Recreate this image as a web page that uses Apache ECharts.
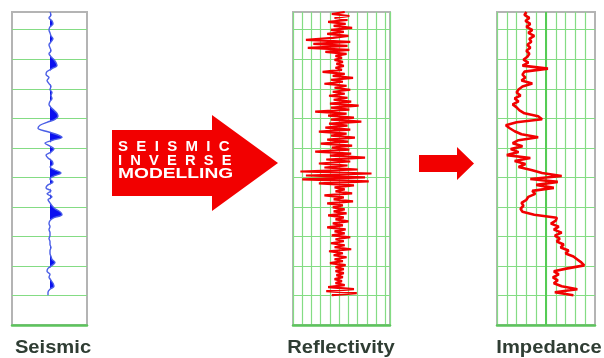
<!DOCTYPE html>
<html>
<head>
<meta charset="utf-8">
<script src="https://cdn.jsdelivr.net/npm/echarts@6/dist/echarts.min.js"></script>
<style>
  html, body { margin: 0; padding: 0; background: #ffffff; }
  #chart { width: 604px; height: 358px; }
</style>
</head>
<body>
<div id="chart"></div>
<script>
// Panel captions
const panelTitles = ['Seismic', 'Reflectivity', 'Impedance'];
// Words written on the large arrow
const arrowWords = ['SEISMIC', 'INVERSE', 'MODELLING'];

// Seismic wiggle trace, one sample per time step (top to bottom)
const seismic = [
  0, 1, -1, 2, 3, 0, -1, 0, 1, 3,
  1, -1, 0, 1, -1, 1, 4, 6, 7, 2,
  -3, -4, -1, -3, -1, 1, 0, 2, 1, 2,
  0, -1, 1, 4, 7, 8, 5, -3, -10, -12,
  -4, 6, 12, 3, -5, 0, 4, 1, -4, -2,
  2, 3, 0, 5, 11, 4, 0, 3, -2, -4,
  1, -3, 2, -2, 0, 2, 5, 10, 12, 4,
  0, -1, 0, -1, 0, 0, -1, 0, 0, 1,
  0, 0, 1, 2, 5, 2, -2, -3, 0, -1,
  1, 3, 4, 0, -2, -2
];
const seismicSteps = 105;

// Reflectivity series (finer sampling)
const reflectivity = [
  0.6, -0.8, 1.1, -0.5, 0.9, -1.2, 0.7, -0.6, 1.4, -0.9, 0.5, -1.3, 1.0, -0.7,
  -3.6, 1.2, -2.8, 0.9, -3.4, 1.1, -1.5, 0.8,
  -0.4, 0.3, -0.5, 0.4, -0.3, 0.5, -0.4, 0.3,
  -1.8, 0.6, -0.7, 1.5, -0.9, 0.4, -1.6, 0.8, -0.5, 1.2, -0.7, 0.6, -1.1, 0.9, -0.6,
  1.3, -1.0, 2.1, -0.9, 1.1, -2.6, 0.8, -1.2, 1.6, -0.9, 2.4, -1.1, 0.9, -1.5, 1.2,
  -2.2, 0.8, -0.9, 1.7, -1.3, 1.0, -2.0, 1.4, -0.8, 1.1,
  -2.6, 1.3, -1.0, 2.8, -1.4, 1.2, -2.2, 0.9, -1.6, 2.0,
  -4.2, 3.5, -3.6, 2.8, -4.0, 3.2, -2.2, 1.6,
  -0.5, 0.6, -0.4, 1.4, -1.6, 0.5, -0.6, 1.5, -1.3, 0.4, -0.7, 0.6,
  -0.6, 0.8, -1.2, 0.5, -0.4, 1.0, -0.7, 0.4, -1.3, 0.7, -0.5, 0.6, -0.8, 1.2, -0.4,
  0.5, -0.9, 0.6, -0.5, 1.3, -1.1, 0.4, -0.6, 0.8, -0.5, 0.4, -1.0, 0.7, -0.4, 0.5,
  -0.4, 0.5, -0.3, 0.4, -0.5, 0.3, -0.4, 0.6, -1.2, 1.6, -1.4, 1.9, -0.8
];
const reflectivitySteps = 157;

// Impedance log
const impedance = [
  3.0, 2.8, 3.3, 2.9, 3.4, 3.0, 3.6, 3.2, 3.8, 3.3,
  3.5, 3.1, 3.4, 3.0, 3.3, 3.1, 2.7, 3.2, 2.6, 5.2,
  2.8, 2.6, 2.9, 2.5, 3.6, 2.6, 2.2, 2.0, 2.4, 1.8,
  2.2, 1.6, 2.0, 2.3, 2.8, 4.2, 4.6, 2.0, 0.9, 1.3,
  1.8, 2.5, 4.2, 2.2, 1.6, 2.6, 1.4, 2.2, 1.0, 3.4,
  1.8, 2.9, 2.2, 3.5, 4.6, 6.6, 3.4, 6.2, 4.0, 5.8,
  3.6, 3.9, 3.2, 3.0, 2.5, 2.7, 2.4, 2.6, 3.8, 6.1,
  6.0, 5.5, 6.3, 5.8, 6.6, 5.9, 6.4, 6.1, 6.8, 6.5,
  7.3, 7.0, 7.8, 8.2, 8.6, 8.9, 7.2, 5.8, 6.3, 5.7,
  6.2, 5.8, 6.6, 8.2, 5.9, 7.8
];
const impedanceSteps = 105;

const GRID_GREEN = '#84dc84';
const BASE_GREEN = '#5cc45c';
const FRAME_GRAY = '#b4b4b4';
const RED = '#f20000';

const range = n => Array.from({ length: n + 1 }, (_, i) => i);

const grids = [
  { left: 12, top: 12, width: 75, height: 313 },
  { left: 293, top: 12, width: 97, height: 313 },
  { left: 497, top: 12, width: 98, height: 313 }
].map(g => Object.assign({ show: true, borderColor: FRAME_GRAY, borderWidth: 2, backgroundColor: '#ffffff' }, g));

function amplitudeAxis(gridIndex, min, max, interval, vertLines, showMax) {
  const ax = {
    type: 'value', gridIndex, min, max,
    axisLine: { show: true, onZero: false, lineStyle: { color: BASE_GREEN, width: 2.5 } },
    axisTick: { show: false }, axisLabel: { show: false },
    splitLine: { show: vertLines, showMaxLine: showMax, lineStyle: { color: GRID_GREEN, width: 1.2 } }
  };
  if (interval) ax.interval = interval;
  return ax;
}

function sampleAxis(gridIndex, steps) {
  return { type: 'category', gridIndex, inverse: true, boundaryGap: false, data: range(steps), show: false };
}

function depthLines(gridIndex) {
  return {
    type: 'value', gridIndex, min: 0, max: 10.6, interval: 1,
    axisLine: { show: false }, axisTick: { show: false }, axisLabel: { show: false },
    splitLine: { show: true, showMaxLine: false, lineStyle: { color: GRID_GREEN, width: 1.2 } }
  };
}

const chart = echarts.init(document.getElementById('chart'), null, { renderer: 'canvas' });

const titleFont = { fontFamily: '"Liberation Sans", Arial, sans-serif', fontWeight: 'bold', fontSize: 18, fill: '#2f3d33', textAlign: 'center', textVerticalAlign: 'middle' };
const titleX = [53, 341, 549];

const arrowFont = { fontFamily: '"Liberation Sans", Arial, sans-serif', fontWeight: 'bold', fontSize: 15, fill: '#ffffff', textAlign: 'left', textVerticalAlign: 'middle' };
const arrowLines = [
  { text: arrowWords[0].split('').join('  '), y: 147, sx: 1.0 },
  { text: arrowWords[1].split('').join('  '), y: 160.5, sx: 0.98 },
  { text: arrowWords[2], y: 174, sx: 1.28 }
];

chart.setOption({
  animation: false,
  grid: grids,
  xAxis: [
    amplitudeAxis(0, -38, 37, null, false, false),
    amplitudeAxis(1, -5, 5.5, 1, true, true),
    amplitudeAxis(2, 0, 10, 1, true, false)
  ],
  yAxis: [
    sampleAxis(0, seismicSteps), depthLines(0),
    sampleAxis(1, reflectivitySteps), depthLines(1),
    sampleAxis(2, impedanceSteps), depthLines(2)
  ],
  series: [
    {
      name: 'seismic-fill', type: 'line', xAxisIndex: 0, yAxisIndex: 0,
      data: seismic.map(v => Math.max(0, v)), symbol: 'none', smooth: 0.35,
      lineStyle: { width: 0 }, areaStyle: { color: '#0a10f0', opacity: 1 }, z: 3
    },
    {
      name: 'seismic', type: 'line', xAxisIndex: 0, yAxisIndex: 0,
      data: seismic, symbol: 'none', smooth: 0.35,
      lineStyle: { color: '#4b5fe6', width: 1.4 }, z: 4
    },
    {
      name: 'reflectivity', type: 'line', xAxisIndex: 1, yAxisIndex: 2,
      data: reflectivity, symbol: 'none',
      lineStyle: { color: RED, width: 2.2 }, z: 4
    },
    {
      name: 'impedance', type: 'line', xAxisIndex: 2, yAxisIndex: 4,
      data: impedance, symbol: 'none',
      lineStyle: { color: RED, width: 2.6 }, z: 4,
      markLine: {
        silent: true, symbol: 'none', label: { show: false },
        lineStyle: { color: '#55cc55', width: 2, type: 'solid' },
        data: [{ xAxis: 5 }], z: 2
      }
    }
  ],
  graphic: [
    {
      type: 'polygon', z: 10,
      shape: { points: [[112, 130], [212, 130], [212, 115], [278, 163], [212, 211], [212, 196], [112, 196]] },
      style: { fill: RED }
    },
    {
      type: 'polygon', z: 10,
      shape: { points: [[419, 155], [457, 155], [457, 147], [474, 163.5], [457, 180], [457, 172], [419, 172]] },
      style: { fill: RED }
    },
    ...arrowLines.map(l => ({
      type: 'text', z: 11, x: 118, y: l.y, scaleX: l.sx,
      style: Object.assign({ text: l.text }, arrowFont)
    })),
    ...panelTitles.map((t, i) => ({
      type: 'text', z: 11, x: titleX[i], y: 348, scaleX: 1.12,
      style: Object.assign({ text: t }, titleFont)
    }))
  ]
});
</script>
</body>
</html>
